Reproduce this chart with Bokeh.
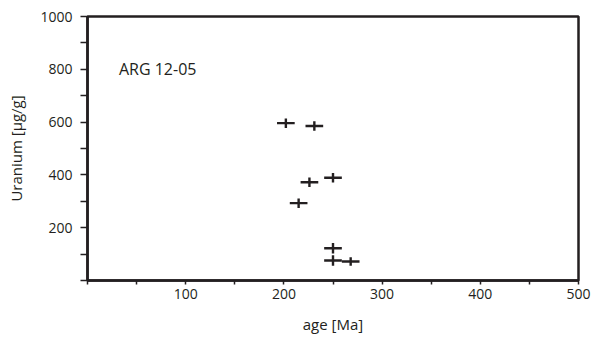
import numpy as np
from bokeh.plotting import figure
from bokeh.models import FixedTicker, Range1d
from bokeh.core.properties import value
from bokeh.embed import file_html
from bokeh.resources import INLINE

# data
age = [202, 231, 250, 226, 215, 250, 250, 268]          # Ma
age_err = [9, 9, 9, 9, 9, 9, 9, 9]
uranium = [596, 585, 389, 372, 293, 122, 76, 72]       # µg/g
uranium_err = [18, 18, 18, 18, 18, 20, 20, 16]

x_ticks = list(range(0, 501, 50))
x_labels = {t: (str(t) if t % 100 == 0 and t > 0 else "") for t in x_ticks}
y_ticks = list(range(0, 1001, 100))
y_labels = {t: (str(t) if t % 200 == 0 and t > 0 else "") for t in y_ticks}

sample_label = "ARG 12-05"

INK = "#231f20"
FONT = "Open Sans"

p = figure(width=598, height=338, output_backend="svg", toolbar_location=None,
           x_range=Range1d(0, 500), y_range=Range1d(0, 1000),
           min_border_left=87, min_border_right=20, min_border_top=16,
           min_border_bottom=58)
p.grid.visible = False
p.outline_line_color = INK
p.outline_line_width = 2.5
p.outline_line_alpha = 1
p.background_fill_color = "white"
p.border_fill_color = "white"

a = np.array(age, dtype=float)
ae = np.array(age_err, dtype=float)
u = np.array(uranium, dtype=float)
ue = np.array(uranium_err, dtype=float)

p.segment(a - ae, u, a + ae, u, line_color=INK, line_width=2.4)
p.segment(a, u - ue, a, u + ue, line_color=INK, line_width=2.4)

p.text(x=[32], y=[800], text=[sample_label], text_font=value(FONT),
       text_font_size="16px", text_color=INK, text_baseline="middle",
       text_align="left")

for ax in (p.xaxis[0], p.yaxis[0]):
    ax.axis_line_width = 2.5
    ax.axis_line_color = INK
    ax.major_tick_line_color = INK
    ax.major_tick_line_width = 1.5
    ax.minor_tick_line_color = None
    ax.major_tick_in = 0
    ax.major_label_text_font = FONT
    ax.major_label_text_font_size = "14px"
    ax.major_label_text_color = INK
    ax.axis_label_text_font = FONT
    ax.axis_label_text_font_size = "15px"
    ax.axis_label_text_font_style = "normal"
    ax.axis_label_text_color = INK

p.xaxis[0].ticker = FixedTicker(ticks=x_ticks)
p.xaxis[0].major_label_overrides = x_labels
p.xaxis[0].major_tick_out = 4
p.xaxis[0].major_label_standoff = 4
p.xaxis[0].axis_label = "age [Ma]"
p.xaxis[0].axis_label_standoff = 12

p.yaxis[0].ticker = FixedTicker(ticks=y_ticks)
p.yaxis[0].major_label_overrides = y_labels
p.yaxis[0].major_tick_out = 7
p.yaxis[0].major_label_standoff = 8
p.yaxis[0].axis_label = "Uranium [µg/g]"
p.yaxis[0].axis_label_standoff = 11

open("out.html", "w").write(file_html(p, INLINE))
